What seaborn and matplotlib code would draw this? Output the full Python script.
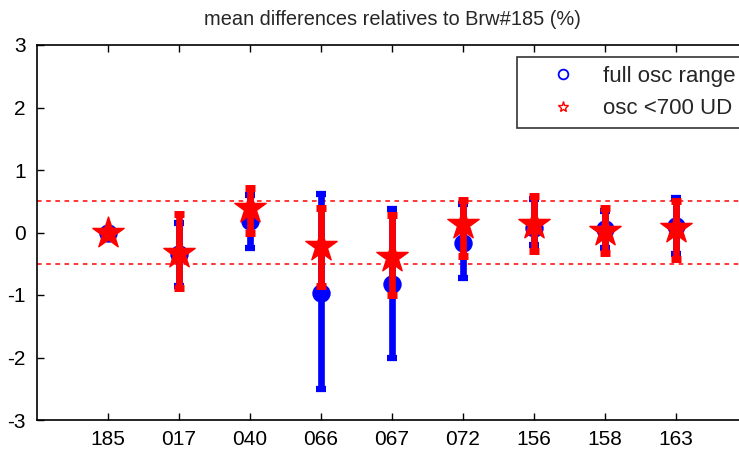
import numpy as np
import pandas as pd
import matplotlib
matplotlib.use("Agg")
import matplotlib.pyplot as plt
from matplotlib.lines import Line2D
import seaborn as sns

categories = ["185", "017", "040", "066", "067", "072", "156", "158", "163"]
full_mean = [0.00, -0.35, 0.19, -0.97, -0.82, -0.16, 0.08, 0.06, 0.10]
full_low = [-0.04, -0.85, -0.25, -2.50, -2.00, -0.72, -0.20, -0.25, -0.35]
full_high = [0.04, 0.16, 0.60, 0.62, 0.38, 0.45, 0.54, 0.35, 0.56]
red_mean = [-0.01, -0.32, 0.40, -0.21, -0.39, 0.14, 0.14, 0.03, 0.08]
red_low = [-0.05, -0.88, 0.00, -0.85, -1.00, -0.37, -0.29, -0.32, -0.42]
red_high = [0.04, 0.30, 0.72, 0.40, 0.28, 0.52, 0.59, 0.40, 0.51]
y_ticks = [-3, -2, -1, 0, 1, 2, 3]

sns.set_style("white")
plt.rcParams["font.family"] = ["Liberation Sans", "DejaVu Sans"]

df = pd.DataFrame({
    "cat": categories,
    "pos": np.arange(1, len(categories) + 1),
    "full_mean": full_mean, "full_low": full_low, "full_high": full_high,
    "red_mean": red_mean, "red_low": red_low, "red_high": red_high,
})

W, H = 739, 449
fig = plt.figure(figsize=(W / 100, H / 100), dpi=100)
left, right, top, bottom = 37, 747, 45, 420
ax = fig.add_axes([left / W, 1 - bottom / H, (right - left) / W, (bottom - top) / H])

blue = "#0000ff"
red = "#ff0000"

ax.axhline(0.5, color=red, ls=(0, (3, 3)), lw=1.1, zorder=1)
ax.axhline(-0.5, color=red, ls=(0, (3, 3)), lw=1.1, zorder=1)

ax.errorbar(df["pos"], df["full_mean"],
            yerr=[df["full_mean"] - df["full_low"], df["full_high"] - df["full_mean"]],
            fmt="none", ecolor=blue, elinewidth=4.8, capsize=3.5, capthick=4.5, zorder=2)
sns.scatterplot(data=df, x="pos", y="full_mean", ax=ax, color=blue, marker="o",
                s=150, edgecolor=blue, linewidth=1, zorder=3, legend=False)
ax.errorbar(df["pos"], df["red_mean"],
            yerr=[df["red_mean"] - df["red_low"], df["red_high"] - df["red_mean"]],
            fmt="none", ecolor=red, elinewidth=4.8, capsize=3.8, capthick=5, zorder=4)
sns.scatterplot(data=df, x="pos", y="red_mean", ax=ax, color=red, marker="*",
                s=560, edgecolor=red, linewidth=1, zorder=5, legend=False)

ax.set_xlim(0, 10)
ax.set_ylim(-3, 3)
ax.set_xticks(df["pos"])
ax.set_xticklabels(categories)
ax.set_yticks(y_ticks)
ax.set_yticklabels([str(t) for t in y_ticks])
ax.set_xlabel("")
ax.set_ylabel("")
ax.tick_params(axis="both", direction="in", length=5, width=1, labelsize=15,
               top=True, bottom=True, left=True, right=False, colors="black", pad=7)
ax.tick_params(axis="y", pad=8)
for s in ax.spines.values():
    s.set_color("black")
    s.set_linewidth(1.2)
ax.spines["right"].set_visible(False)

ax.set_title("mean differences relatives to Brw#185 (%)", fontsize=14.4, pad=14.5)

handles = [
    Line2D([], [], ls="none", marker="o", markerfacecolor="none", markeredgecolor=blue,
           markersize=7, markeredgewidth=1.3),
    Line2D([], [], ls="none", marker="*", markerfacecolor="none", markeredgecolor=red,
           markersize=8, markeredgewidth=1.0),
]
leg = ax.legend(handles, ["full osc range", "osc <700 UD"], loc="upper left",
                bbox_to_anchor=((517 - left) / (right - left), 1 - (57 - top) / (bottom - top)),
                frameon=True, fancybox=False, edgecolor="black", fontsize=16,
                borderpad=0.4, handletextpad=0.15, labelspacing=0.52, handlelength=3.3,
                borderaxespad=0)
leg.get_frame().set_linewidth(1.2)

fig.savefig("out.png", dpi=100)
